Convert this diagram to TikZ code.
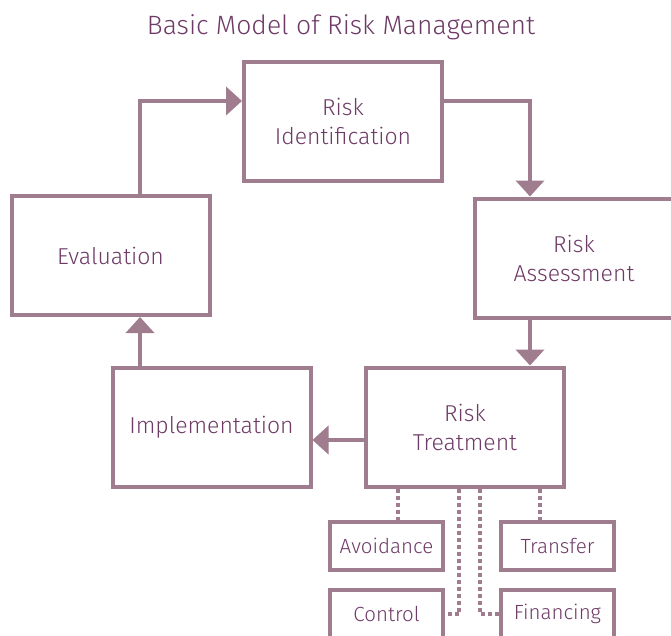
\documentclass[tikz,border=0pt]{standalone}
\usepackage{fontspec}
\setmainfont{Fira Sans}[UprightFont={* Light}]
\usetikzlibrary{arrows.meta}
\definecolor{boxline}{HTML}{A07C8F}
\definecolor{boxtext}{HTML}{6E3A66}
\begin{document}
\begin{tikzpicture}
  [x=1pt,y=-1pt,
   every node/.style={draw=boxline,line width=4pt,text=boxtext,align=center,
     font=\fontsize{23}{29}\selectfont,outer sep=2pt,inner sep=0pt},
   big/.style={minimum width=198pt,minimum height=119pt},
   small/.style={minimum width=113pt,minimum height=48pt,font=\fontsize{20.5}{22}\selectfont},
   arr/.style={draw=boxline,line width=4pt,-{Triangle[length=16pt,width=28pt]}},
   dots/.style={draw=boxline,line width=4pt,dash pattern=on 4pt off 3pt}]
  \clip (0,0) rectangle (671,635);
  \node[draw=none,font=\fontsize{26.5}{30}\selectfont] (title) at (341,27) {Basic Model of Risk Management};
  \node[big] (ident) at (343,121.5) {Risk\\Identification};
  \node[big] (assess) at (574,258) {Risk\\Assessment};
  \node[big] (eval) at (110.5,255.5) {Evaluation};
  \node[big] (impl) at (211.5,427) {Implementation};
  \node[big] (treat) at (465,427) {Risk\\Treatment};
  \node[small] (avoid) at (386.5,546) {Avoidance};
  \node[small] (transf) at (557.5,546) {Transfer};
  \node[small] (control) at (386.5,614) {Control};
  \node[small] (financ) at (557.5,614) {Financing};
  % bends of the arrows
  \coordinate (up) at (140,101);
  \coordinate (rt) at (530,101);
  \coordinate (lf) at (0,440);
  \draw[arr] (eval.north -| up) |- (ident.west |- up);
  \draw[arr] (ident.east |- rt) -| (assess.north -| rt);
  \draw[arr] (assess.south -| rt) -- (treat.north -| rt);
  \draw[arr] (treat.west |- lf) -- (impl.east |- lf);
  \draw[arr] (impl.north -| up) -- (eval.south -| up);
  % treatment options
  \coordinate (d1) at (398,0);
  \coordinate (d2) at (540,0);
  \coordinate (d3) at (459,0);
  \coordinate (d4) at (480,0);
  \draw[dots] (treat.south -| d1) -- (avoid.north -| d1);
  \draw[dots] (treat.south -| d2) -- (transf.north -| d2);
  \draw[dots] (treat.south -| d3) |- (control.east);
  \draw[dots] (treat.south -| d4) |- (financ.west);
\end{tikzpicture}
\end{document}
